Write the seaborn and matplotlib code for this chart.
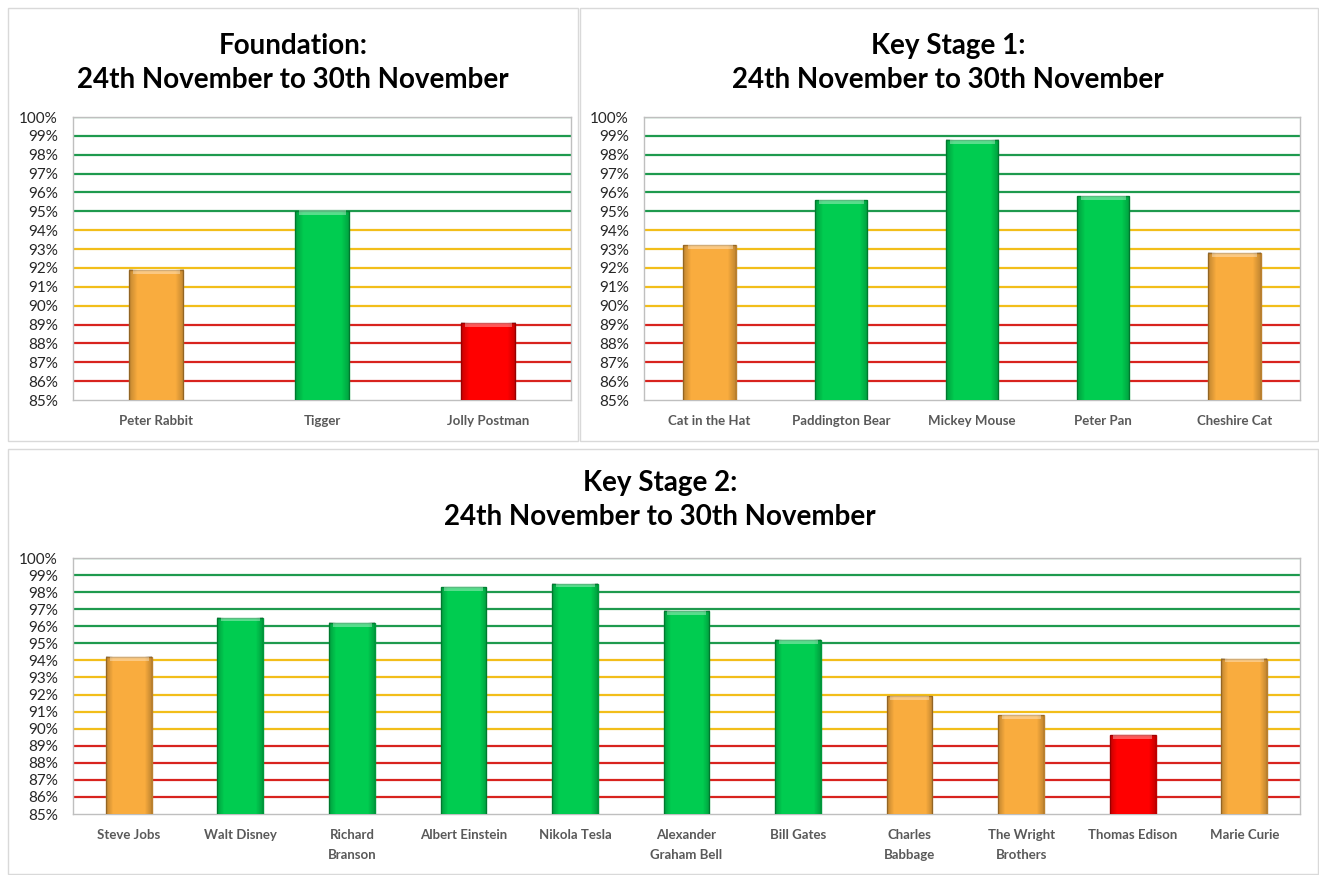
import matplotlib
matplotlib.use("Agg")
import matplotlib.pyplot as plt
import seaborn as sns
import numpy as np
import pandas as pd
from matplotlib.patches import Rectangle
from matplotlib.ticker import FuncFormatter

# ==============================================================================
# DATA
# ==============================================================================
PERIOD = "24th November to 30th November"

FOUNDATION_CLASSES = ["Peter Rabbit", "Tigger", "Jolly Postman"]
FOUNDATION_VALUES = [91.9, 95.0, 89.1]

KS1_CLASSES = ["Cat in the Hat", "Paddington Bear", "Mickey Mouse", "Peter Pan", "Cheshire Cat"]
KS1_VALUES = [93.2, 95.6, 98.8, 95.8, 92.8]

KS2_CLASSES = ["Steve Jobs", "Walt Disney", "Richard\nBranson", "Albert Einstein", "Nikola Tesla",
               "Alexander\nGraham Bell", "Bill Gates", "Charles\nBabbage", "The Wright\nBrothers",
               "Thomas Edison", "Marie Curie"]
KS2_VALUES = [94.2, 96.5, 96.2, 98.3, 98.5, 96.9, 95.2, 91.9, 90.8, 89.6, 94.1]

Y_TICKS = list(range(85, 101))

# ==============================================================================
# STYLE
# ==============================================================================
GREEN_BAR = "#00CC50"
ORANGE_BAR = "#F9AC3E"
RED_BAR = "#FF0000"
GREEN_LINE = "#1E9A4E"
GOLD_LINE = "#F2BE1A"
RED_LINE = "#D8231E"
LABEL_GREY = "#595959"

W, H = 1319, 875

sns.set_theme(style="white")
plt.rcParams["font.family"] = ["Lato", "DejaVu Sans"]


def bar_colour(v):
    if v >= 95:
        return GREEN_BAR
    if v >= 90:
        return ORANGE_BAR
    return RED_BAR


def line_colour(t):
    if t >= 95:
        return GREEN_LINE
    if t >= 90:
        return GOLD_LINE
    return RED_LINE


def darker(c, f=0.75):
    r, g, b = matplotlib.colors.to_rgb(c)
    return (r * f, g * f, b * f)


def px_axes(fig, left, top, right, bottom):
    return fig.add_axes([left / W, 1 - bottom / H, (right - left) / W, (bottom - top) / H])


def bevel(ax):
    """Shade the sides and top of each bar to mimic the Excel bevel look."""
    ybot = ax.get_ylim()[0]
    xs = np.linspace(-1, 1, 60)
    shade = np.zeros((1, len(xs), 4))
    shade[..., 3] = np.clip((np.abs(xs) - 0.7) / 0.3, 0, 1) * 0.22
    top = np.zeros((1, 1, 4))
    top[..., :3] = 1.0
    top[..., 3] = 0.35
    for patch in list(ax.patches):
        x0, w = patch.get_x(), patch.get_width()
        ytop = patch.get_y() + patch.get_height()
        ax.imshow(shade, extent=[x0, x0 + w, ybot, ytop], aspect="auto",
                  zorder=4, interpolation="bilinear")
        ax.imshow(top, extent=[x0 + w * 0.08, x0 + w * 0.92, ytop - 0.22, ytop],
                  aspect="auto", zorder=4)


def draw_chart(ax, classes, values, width, title, title_x, title_y):
    df = pd.DataFrame({"cls": classes, "val": values})
    colours = [bar_colour(v) for v in values]
    sns.barplot(data=df, x="cls", y="val", hue="cls", palette=colours, legend=False,
                width=width, ax=ax, zorder=3, saturation=1)
    for patch, c in zip(ax.patches, colours):
        patch.set_edgecolor(darker(c))
        patch.set_linewidth(1.0)
    xlim = ax.get_xlim()
    ax.set_ylim(85, 100)
    bevel(ax)
    ax.set_xlim(xlim)
    ax.set_ylim(85, 100)
    for t in Y_TICKS[1:]:
        ax.axhline(t, color=line_colour(t), lw=1.6, zorder=1)
    ax.set_yticks(Y_TICKS)
    ax.yaxis.set_major_formatter(FuncFormatter(lambda v, p: f"{v:.0f}%"))
    ax.tick_params(axis="y", labelsize=11, length=0, pad=11, labelcolor="#262626")
    ax.tick_params(axis="x", labelsize=9.5, length=0, pad=11, labelcolor=LABEL_GREY)
    for lbl in ax.get_xticklabels():
        lbl.set_fontweight("bold")
        lbl.set_linespacing(1.75)
    ax.set_xlabel("")
    ax.set_ylabel("")
    for s in ax.spines.values():
        s.set_color("#BFBFBF")
        s.set_linewidth(1.0)
    ax.figure.text(title_x / W, 1 - title_y / H, title, ha="center", va="center",
                   fontsize=20, fontweight="bold", color="#000000", linespacing=1.35)


fig = plt.figure(figsize=(W / 100, H / 100), dpi=100)
fig.patch.set_facecolor("white")

# panel borders
for (x0, y0, x1, y1) in [(8, 8, 578, 441), (580, 8, 1318, 441), (8, 449, 1318, 874)]:
    fig.patches.append(Rectangle((x0 / W, 1 - y1 / H), (x1 - x0) / W, (y1 - y0) / H,
                                 transform=fig.transFigure, fill=False,
                                 edgecolor="#D9D9D9", lw=1.0))

ax1 = px_axes(fig, 73, 117, 571, 400)
draw_chart(ax1, FOUNDATION_CLASSES, FOUNDATION_VALUES, 0.33,
           "Foundation:\n" + PERIOD, 293, 63)

ax2 = px_axes(fig, 644, 117, 1300, 400)
draw_chart(ax2, KS1_CLASSES, KS1_VALUES, 0.4,
           "Key Stage 1:\n" + PERIOD, 948, 63)

ax3 = px_axes(fig, 73, 558, 1300, 814)
draw_chart(ax3, KS2_CLASSES, KS2_VALUES, 0.41,
           "Key Stage 2:\n" + PERIOD, 660, 500)

fig.savefig("out.png", dpi=100, facecolor="white")
